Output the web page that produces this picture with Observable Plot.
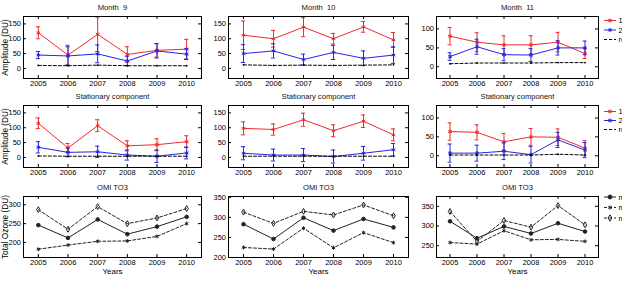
<!DOCTYPE html>
<html><head><meta charset="utf-8">
<script src="https://cdn.jsdelivr.net/npm/d3@7"></script>
<script src="https://cdn.jsdelivr.net/npm/@observablehq/plot@0.6"></script>
<style>
html,body{margin:0;padding:0;background:#fff;overflow:hidden;}
#root{position:relative;width:622px;height:284px;overflow:hidden;}
#root svg{position:absolute;overflow:visible;}
</style></head><body><div id="root"></div>
<script>
// ---------------- data ----------------
const years = [2005, 2006, 2007, 2008, 2009, 2010];

const titlesRow1 = ["Month  9", "Month  10", "Month  11"];
const titlesRow2 = ["Stationary component", "Stationary component", "Stationary component"];
const titlesRow3 = ["OMI TO3", "OMI TO3", "OMI TO3"];

const legendAmp = ["1", "2", "ref"];
const legendOzone = ["mean", "min", "max"];

const ticksAmpWide = [0, 50, 100, 150];
const ticksAmpNarrow = [0, 50, 100];
const ticksOz1 = [200, 250, 300];
const ticksOz2 = [200, 250, 300, 350];
const ticksOz3 = [250, 300, 350];

// Month 9
const m9_s1 = [120, 45, 115, 47, 61, 65];
const m9_s1Err = [20, 33, 58, 26, 23, 33];
const m9_s2 = [45, 42, 49, 25, 59, 48];
const m9_s2Err = [12, 31, 30, 16, 24, 18];
const m9_ref = [10, 9, 11, 9, 9, 9];
// Month 10
const m10_s1 = [112, 100, 139, 100, 140, 96];
const m10_s1Err = [48, 28, 32, 18, 18, 25];
const m10_s2 = [50, 59, 30, 54, 34, 45];
const m10_s2Err = [30, 24, 18, 24, 25, 28];
const m10_ref = [12, 10, 11, 10, 11, 12];
// Month 11
const m11_s1 = [81, 65, 58, 58, 65, 35];
const m11_s1Err = [23, 25, 24, 24, 26, 13];
const m11_s2 = [27, 53, 32, 31, 50, 50];
const m11_s2Err = [10, 20, 16, 17, 19, 18];
const m11_ref = [8, 10, 10, 10, 11, 11];
// Stationary component (3 columns)
const st1_s1 = [115, 32, 107, 39, 43, 53];
const st1_s1Err = [18, 15, 20, 17, 20, 20];
const st1_s2 = [34, 17, 19, 8, 4, 15];
const st1_s2Err = [19, 15, 19, 17, 21, 20];
const st1_ref = [5, 4, 4, 4, 4, 4];

const st2_s1 = [98, 94, 127, 90, 122, 76];
const st2_s1Err = [22, 19, 22, 20, 21, 20];
const st2_s2 = [14, 8, 8, 3, 14, 26];
const st2_s2Err = [22, 20, 22, 22, 23, 21];
const st2_ref = [4, 4, 4, 4, 4, 4];

const st3_s1 = [64, 62, 37, 50, 49, 20];
const st3_s1Err = [23, 20, 22, 22, 22, 20];
const st3_s2 = [7, 7, 12, 3, 42, 15];
const st3_s2Err = [24, 21, 22, 22, 20, 20];
const st3_ref = [2, 2, 2, 2, 4, 2];
// OMI TO3
const oz1_mean = [246, 212, 261, 222, 242, 268];
const oz1_min = [182, 193, 203, 204, 216, 250];
const oz1_max = [287, 235, 295, 250, 265, 290];

const oz2_mean = [283, 246, 299, 267, 296, 275];
const oz2_min = [225, 221, 273, 224, 262, 237];
const oz2_max = [313, 285, 315, 306, 331, 304];

const oz3_mean = [312, 269, 299, 281, 307, 286];
const oz3_min = [258, 254, 288, 265, 266, 261];
const oz3_max = [337, 261, 314, 297, 352, 303];

// ---------------- layout / style ----------------
const RED = "#f02a2a", BLUE = "#2424e6", DARK = "#222";
const TICKFONT = "'Liberation Sans Narrow', 'Liberation Sans', Arial, sans-serif";
const TITLEFONT = "'Liberation Sans', Arial, sans-serif";
const cols = [{l: 23, r: 201}, {l: 228, r: 408}, {l: 436, r: 598}];
const rows = [{t: 16, b: 78}, {t: 105, b: 167}, {t: 196, b: 257}];
const root = document.getElementById("root");

function ampSeries(vals, errs, color) {
  const d = years.map((x, i) => ({x, v: vals[i], lo: vals[i] - errs[i], hi: vals[i] + errs[i]}));
  return [
    Plot.ruleX(d, {x: "x", y1: "lo", y2: "hi", stroke: color, strokeWidth: 1}),
    Plot.ruleY(d, {y: "lo", x1: (p) => p.x - 0.07, x2: (p) => p.x + 0.07, stroke: color, strokeWidth: 1}),
    Plot.ruleY(d, {y: "hi", x1: (p) => p.x - 0.07, x2: (p) => p.x + 0.07, stroke: color, strokeWidth: 1}),
    Plot.line(d, {x: "x", y: "v", stroke: color, strokeWidth: 1}),
    Plot.dot(d, {x: "x", y: "v", symbol: "asterisk", r: 2, stroke: color, strokeWidth: 1})
  ];
}
function refSeries(vals) {
  const d = years.map((x, i) => ({x, v: vals[i]}));
  return [
    Plot.line(d, {x: "x", y: "v", stroke: "black", strokeWidth: 1, strokeDasharray: "3,2"}),
    Plot.dot(d, {x: "x", y: "v", r: 0.9, fill: "black"})
  ];
}
function ozSeries(vals, dash, symbol) {
  const d = years.map((x, i) => ({x, v: vals[i]}));
  return [
    Plot.line(d, {x: "x", y: "v", stroke: DARK, strokeWidth: 1, strokeDasharray: dash}),
    Plot.dot(d, {x: "x", y: "v", symbol, r: 1.8, stroke: DARK, fill: symbol === "circle" ? DARK : "none", strokeWidth: 1})
  ];
}

function panel({col, row, title, yDomain, yTicks, marks, ylabel, xlabel}) {
  const mL = 34, mR = 6, mT = 18, mB = 28;
  const fw = cols[col].r - cols[col].l, fh = rows[row].b - rows[row].t;
  const extra = [];
  if (ylabel) extra.push(Plot.text([ylabel], {frameAnchor: "left", rotate: -90, dx: -18, textAnchor: "middle", lineAnchor: "middle", fontSize: 8.3, fontFamily: TITLEFONT, fill: "black"}));
  if (xlabel) extra.push(Plot.text([xlabel], {frameAnchor: "bottom", dy: 13.5, lineAnchor: "middle", fontSize: 8, fontFamily: TICKFONT, fill: "black"}));
  const svg = Plot.plot({
    width: fw + mL + mR, height: fh + mT + mB,
    marginLeft: mL, marginRight: mR, marginTop: mT, marginBottom: mB,
    x: {domain: [2004.5, 2010.5]},
    y: {domain: yDomain},
    style: {fontFamily: TICKFONT, fontSize: "7.5px", background: "transparent", overflow: "visible", color: "black"},
    marks: [
      Plot.axisX({ticks: years, tickFormat: "d", tickSize: 0, tickPadding: 2.5, label: null}),
      Plot.axisY({ticks: yTicks, tickSize: 0, tickPadding: 2.5, label: null}),
      Plot.tickX(years, {x: (d) => d, insetTop: fh - 3, stroke: "black"}),
      Plot.tickX(years, {x: (d) => d, insetBottom: fh - 3, stroke: "black"}),
      Plot.tickY(yTicks, {y: (d) => d, insetRight: fw - 3, stroke: "black"}),
      Plot.tickY(yTicks, {y: (d) => d, insetLeft: fw - 3, stroke: "black"}),
      ...marks,
      Plot.frame({stroke: "black", strokeWidth: 1}),
      Plot.text([title], {frameAnchor: "top", dy: -8.5, lineAnchor: "middle", fontSize: 7.6, fontFamily: TITLEFONT, fill: "#111"}),
      ...extra
    ]
  });
  svg.style.left = (cols[col].l - mL) + "px";
  svg.style.top = (rows[row].t - mT) + "px";
  root.append(svg);
}

const ampDomWide = [-34, 175], ampDomNarrow = [-31, 133];

panel({col: 0, row: 0, title: titlesRow1[0], yDomain: ampDomWide, yTicks: ticksAmpWide, ylabel: "Amplitude (DU)",
  marks: [...ampSeries(m9_s1, m9_s1Err, RED), ...ampSeries(m9_s2, m9_s2Err, BLUE), ...refSeries(m9_ref)]});
panel({col: 1, row: 0, title: titlesRow1[1], yDomain: ampDomWide, yTicks: ticksAmpWide,
  marks: [...ampSeries(m10_s1, m10_s1Err, RED), ...ampSeries(m10_s2, m10_s2Err, BLUE), ...refSeries(m10_ref)]});
panel({col: 2, row: 0, title: titlesRow1[2], yDomain: ampDomNarrow, yTicks: ticksAmpNarrow,
  marks: [...ampSeries(m11_s1, m11_s1Err, RED), ...ampSeries(m11_s2, m11_s2Err, BLUE), ...refSeries(m11_ref)]});

panel({col: 0, row: 1, title: titlesRow2[0], yDomain: ampDomWide, yTicks: ticksAmpWide, ylabel: "Amplitude (DU)",
  marks: [...ampSeries(st1_s1, st1_s1Err, RED), ...ampSeries(st1_s2, st1_s2Err, BLUE), ...refSeries(st1_ref)]});
panel({col: 1, row: 1, title: titlesRow2[1], yDomain: ampDomWide, yTicks: ticksAmpWide,
  marks: [...ampSeries(st2_s1, st2_s1Err, RED), ...ampSeries(st2_s2, st2_s2Err, BLUE), ...refSeries(st2_ref)]});
panel({col: 2, row: 1, title: titlesRow2[2], yDomain: ampDomNarrow, yTicks: ticksAmpNarrow,
  marks: [...ampSeries(st3_s1, st3_s1Err, RED), ...ampSeries(st3_s2, st3_s2Err, BLUE), ...refSeries(st3_ref)]});

panel({col: 0, row: 2, title: titlesRow3[0], yDomain: [160, 322], yTicks: ticksOz1, ylabel: "Total Ozone (DU)", xlabel: "Years",
  marks: [...ozSeries(oz1_mean, null, "circle"), ...ozSeries(oz1_min, "3,2", "asterisk"), ...ozSeries(oz1_max, "3,2", "diamond")]});
panel({col: 1, row: 2, title: titlesRow3[1], yDomain: [200, 352], yTicks: ticksOz2, xlabel: "Years",
  marks: [...ozSeries(oz2_mean, null, "circle"), ...ozSeries(oz2_min, "3,2", "asterisk"), ...ozSeries(oz2_max, "3,2", "diamond")]});
panel({col: 2, row: 2, title: titlesRow3[2], yDomain: [220, 375], yTicks: ticksOz3, xlabel: "Years",
  marks: [...ozSeries(oz3_mean, null, "circle"), ...ozSeries(oz3_min, "3,2", "asterisk"), ...ozSeries(oz3_max, "3,2", "diamond")]});

// ---------------- legends (clipped at the right edge, as in the reference) ----------------
const leg = d3.create("svg").attr("width", 622).attr("height", 284).style("left", "0px").style("top", "0px")
  .style("font-family", TICKFONT).style("font-size", "7.5px");
function legendBlock(ys, labels, styles) {
  labels.forEach((lab, i) => {
    const s = styles[i];
    leg.append("line").attr("x1", 604).attr("x2", 616).attr("y1", ys[i]).attr("y2", ys[i])
      .attr("stroke", s.color).attr("stroke-width", 1).attr("stroke-dasharray", s.dash || null);
    if (s.marker) {
      const sym = d3.symbol(s.marker, 12)();
      leg.append("path").attr("d", sym).attr("transform", `translate(610,${ys[i]})`)
        .attr("stroke", s.color).attr("fill", s.fill || "none").attr("stroke-width", 1);
    }
    leg.append("text").attr("x", 618.5).attr("y", ys[i]).attr("dy", "0.35em").text(lab);
  });
}
const ampStyles = [{color: RED, marker: d3.symbolAsterisk}, {color: BLUE, marker: d3.symbolAsterisk}, {color: "black", dash: "3,2"}];
const ozStyles = [{color: DARK, marker: d3.symbolCircle, fill: DARK}, {color: DARK, dash: "3,2", marker: d3.symbolAsterisk}, {color: DARK, dash: "3,2", marker: d3.symbolDiamond}];
legendBlock([20.5, 30, 39.5], legendAmp, ampStyles);
legendBlock([111.5, 120.5, 129.5], legendAmp, ampStyles);
legendBlock([197, 207.5, 218], legendOzone, ozStyles);
root.append(leg.node());
</script></body></html>
